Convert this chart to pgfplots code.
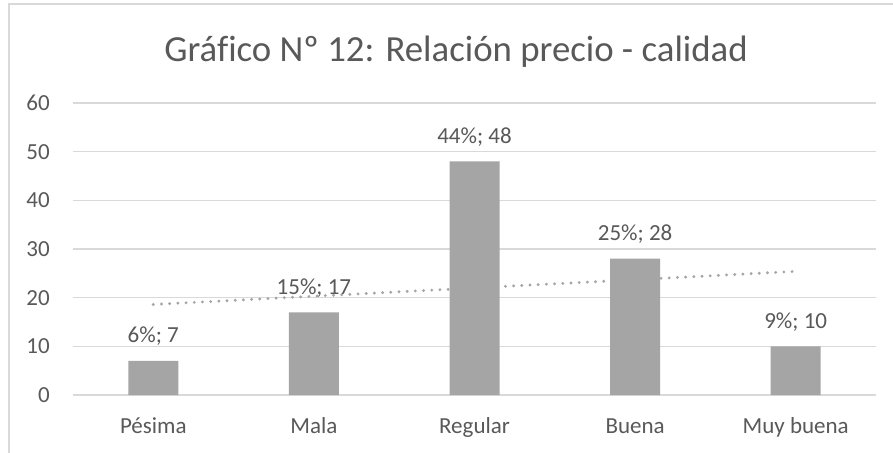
\documentclass[border=0pt]{standalone}
\usepackage{pgfplots}
\pgfplotsset{compat=1.18}
\usepackage{fontspec}
\setmainfont{Carlito}[Ligatures=NoCommon]
\definecolor{txt}{HTML}{595959}
\definecolor{gridc}{HTML}{D9D9D9}
\definecolor{barc}{HTML}{A5A5A5}
\begin{document}
\begin{tikzpicture}[x=1pt,y=1pt]
\useasboundingbox (0,0) rectangle (893,452);
\fill[white] (0,0) rectangle (893,452);
\draw[gridc, line width=1.5pt] (9,-20) rectangle (920,448);
\node[anchor=base, text=txt, font=\fontsize{36.8}{44}\selectfont, inner sep=0pt] at (456,390) {Gráfico Nº 12: Relación precio - calidad};
\begin{axis}[
  at={(73pt,57pt)}, anchor=south west,
  scale only axis, width=803pt, height=292pt,
  xmin=0.5, xmax=5.5, ymin=0, ymax=60,
  ytick={0,10,20,30,40,50,60},
  xtick={1,2,3,4,5},
  xticklabels={Pésima,Mala,Regular,Buena,Muy buena},
  axis line style={draw=none},
  major tick length=0pt,
  ymajorgrids, grid style={gridc, line width=1.3pt},
  tick label style={text=txt, font=\fontsize{23}{27}\selectfont, inner sep=0pt},
  /pgf/number format/assume math mode=true,
  yticklabel style={anchor=east, xshift=-23pt},
  xticklabel style={anchor=base, yshift=-38pt},
  clip=false,
]
\addplot[ybar, bar width=50pt, fill=barc, draw=none,
  visualization depends on={\thisrow{pct}\as\pct},
  nodes near coords={\pgfmathprintnumber{\pct}\%; \pgfmathprintnumber{\pgfplotspointmeta}},
  every node near coord/.append style={anchor=base, yshift=18pt, inner sep=0pt, text=txt, font=\fontsize{23}{27}\selectfont, /pgf/number format/assume math mode=true}]
  table[x=x, y=y] {
x y pct
1 7 6
2 17 15
3 48 44
4 28 25
5 10 9
};
\addplot[barc, line width=3.2pt, dash pattern=on 0pt off 8.2pt, line cap=round] coordinates {(1,18.6) (5,25.4)};
\end{axis}
\end{tikzpicture}
\end{document}
